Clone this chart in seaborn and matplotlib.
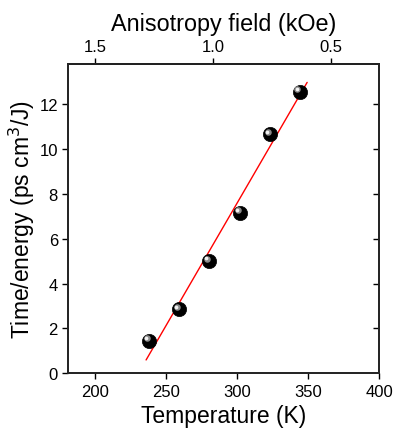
import numpy as np
import pandas as pd
import matplotlib
matplotlib.use("Agg")
import matplotlib.pyplot as plt
import matplotlib.transforms as mtransforms
import seaborn as sns

# Data
temperature = [238, 259, 280, 302, 323, 344]
time_energy = [1.45, 2.84, 5.0, 7.16, 10.66, 12.57]
fit_range = [235.8, 349.3]
x_ticks = [200, 250, 300, 350, 400]
y_ticks = [0, 2, 4, 6, 8, 10, 12]
top_ticks = [1.5, 1.0, 0.5]

sns.set_theme(style="ticks")
plt.rcParams['font.family'] = ['Liberation Sans', 'DejaVu Sans']
plt.rcParams['text.color'] = 'black'
plt.rcParams['axes.labelcolor'] = 'black'
plt.rcParams['xtick.color'] = 'black'
plt.rcParams['ytick.color'] = 'black'

df = pd.DataFrame({"T": temperature, "E": time_energy})

fig = plt.figure(figsize=(3.95, 4.35), dpi=100)
ax = fig.add_axes([0.173, 0.140, 0.7867, 0.7106])

# fit line
coef = np.polyfit(temperature, time_energy, 1)
fx = np.array(fit_range)
fit_df = pd.DataFrame({"T": fx, "E": np.polyval(coef, fx)})
sns.lineplot(data=fit_df, x="T", y="E", ax=ax, color="red", linewidth=1.0, zorder=2)

# spheres
sns.scatterplot(data=df, x="T", y="E", ax=ax, s=105, color="black",
                edgecolor="black", linewidth=0.5, zorder=3)
off1 = mtransforms.offset_copy(ax.transData, fig=fig, x=-1.6, y=1.6, units='points')
ax.scatter(temperature, time_energy, s=22, color="#8a8a8a", transform=off1,
           zorder=4, linewidths=0)
off2 = mtransforms.offset_copy(ax.transData, fig=fig, x=-2.0, y=2.0, units='points')
ax.scatter(temperature, time_energy, s=7, color="#f2f2f2", transform=off2,
           zorder=5, linewidths=0)

ax.set_xlim(181, 400)
ax.set_ylim(0, 13.8)
ax.set_xticks(x_ticks)
ax.set_yticks(y_ticks)
ax.set_xlabel("Temperature (K)", fontsize=16.5, labelpad=4)
ax.set_ylabel("Time/energy (ps cm$^3$/J)", fontsize=16.5, labelpad=2)
ax.tick_params(axis='both', labelsize=12, direction='out', length=4, width=1,
               color='black', labelcolor='black')
for sp in ax.spines.values():
    sp.set_linewidth(1.2)
    sp.set_color('black')
    sp.set_visible(True)

# right-side inward ticks
axr = ax.twinx()
axr.set_ylim(ax.get_ylim())
axr.set_yticks(y_ticks[1:])
axr.tick_params(axis='y', direction='in', length=4, width=1, labelright=False)

# top axis: anisotropy field, linear mapping
def t2h(t):
    return 1.5 - (np.asarray(t) - 200.0) / 166.0

def h2t(h):
    return 200.0 + (1.5 - np.asarray(h)) * 166.0

axt = ax.secondary_xaxis('top', functions=(t2h, h2t))
axt.set_xticks(top_ticks)
axt.set_xticklabels(["1.5", "1.0", "0.5"])
axt.tick_params(axis='x', direction='out', length=4, width=1, labelsize=12)
axt.set_xlabel("Anisotropy field (kOe)", fontsize=16.8, labelpad=6)

fig.savefig("out.png", dpi=100)
